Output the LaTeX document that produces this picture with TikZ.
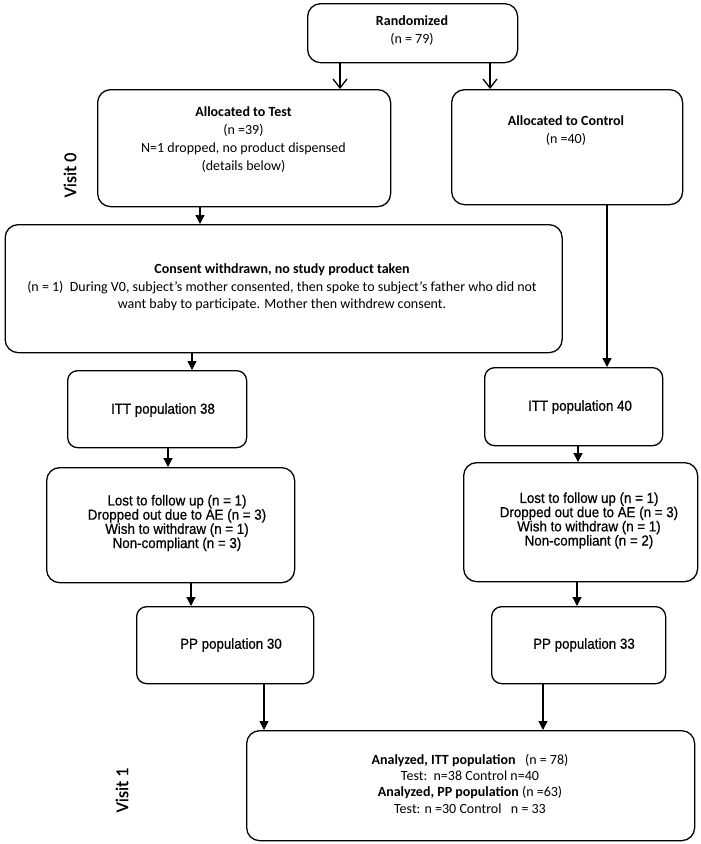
\documentclass[tikz,border=0pt]{standalone}
\usepackage{fontspec}
\setmainfont{Carlito}
\newfontfamily\arialn[FakeStretch=0.92,FakeBold=0.6]{Liberation Sans}
\newfontfamily\visitfont[FakeBold=0.8]{Carlito}
\usetikzlibrary{arrows.meta}
\begin{document}
\begin{tikzpicture}[x=1pt,y=-1pt,
  box/.style={draw=black, line width=1.3pt, rounded corners=13pt, anchor=north west, inner sep=0pt},
  sbox/.style={box, rounded corners=10pt},
  ctext/.style={align=center, inner sep=0pt, font=\fontsize{14}{18}\selectfont},
  atext/.style={align=center, inner sep=0pt, font=\arialn\fontsize{14.5}{14.2}\selectfont},
  vlabel/.style={inner sep=0pt, rotate=90, font=\visitfont\fontsize{18}{20}\selectfont},
  arr/.style={line width=1.3pt, -{Triangle[length=9pt,width=9pt]}},
  opn/.style={line width=1.3pt, -{Straight Barb[length=9pt,width=14pt]}}
]
\useasboundingbox[fill=white] (0,0) rectangle (701,844);

% boxes
\node[box, minimum width=210pt, minimum height=59pt] (rand) at (307,3) {};
\node[box, minimum width=293pt, minimum height=117pt] (test) at (97,89) {};
\node[box, minimum width=231pt, minimum height=115pt] (ctrl) at (451,89) {};
\node[box, minimum width=557pt, minimum height=128pt] (cons) at (4.5,224) {};
\node[sbox, minimum width=179pt, minimum height=77pt] (itta) at (67,370) {};
\node[box, minimum width=248pt, minimum height=115pt] (losta) at (46,467) {};
\node[sbox, minimum width=178pt, minimum height=78pt] (ittb) at (484,367) {};
\node[box, minimum width=234pt, minimum height=119pt] (lostb) at (463,462) {};
\node[sbox, minimum width=177pt, minimum height=77pt] (ppa) at (136,606) {};
\node[sbox, minimum width=174pt, minimum height=77pt] (ppb) at (491,606) {};
\node[box, minimum width=448pt, minimum height=110pt] (anal) at (246,730) {};

% texts
\node[ctext] (trand) at (412,30.5) {\textbf{Randomized}\\(n = 79)};
\node[ctext] (ttest) at (243.5,140) {\textbf{Allocated to Test}\\(n =39)\\N=1 dropped, no product dispensed\\(details below)};
\node[ctext] (tctrl) at (566,131) {\textbf{Allocated to Control}\\(n =40)};
\node[ctext, font=\fontsize{14}{17.5}\selectfont] (tcons) at (282,287.5) {\textbf{Consent withdrawn, no study product taken}\\(n = 1)\ \ During V0, subject’s mother consented, then spoke to subject’s father who did not\\want baby to participate. Mother then withdrew consent.};
\node[atext] (titta) at (163,410) {ITT population 38};
\node[atext] (tlosta) at (177,523) {Lost to follow up (n = 1)\\Dropped out due to AE (n = 3)\\Wish to withdraw (n = 1)\\Non-compliant (n = 3)};
\node[atext] (tittb) at (580,407) {ITT population 40};
\node[atext] (tlostb) at (589,520.5) {Lost to follow up (n = 1)\\Dropped out due to AE (n = 3)\\Wish to withdraw (n = 1)\\Non-compliant (n = 2)};
\node[atext] (tppa) at (231,645) {PP population 30};
\node[atext] (tppb) at (584,645) {PP population 33};
\node[ctext, font=\fontsize{14}{16.3}\selectfont] (tanal) at (470,783.5) {\textbf{Analyzed, ITT population}\ \ \ (n = 78)\\Test:\ \ n=38 Control n=40\\\textbf{Analyzed, PP population} (n =63)\\Test: n =30 Control\ \ \ n = 33};
\node[vlabel] (v0) at (70,175) {Visit 0};
\node[vlabel] (v1) at (122,790) {Visit 1};

% connectors
\draw[opn] (340,0 |- rand.south) -- (340,0 |- test.north);
\draw[opn] (490,0 |- rand.south) -- (490,0 |- ctrl.north);
\draw[arr] (200,0 |- test.south) -- (200,0 |- cons.north);
\draw[arr] (607,0 |- ctrl.south) -- (607,0 |- ittb.north);
\draw[arr] (192,0 |- cons.south) -- (192,0 |- itta.north);
\draw[arr] (168,0 |- itta.south) -- (168,0 |- losta.north);
\draw[arr] (578,0 |- ittb.south) -- (578,0 |- lostb.north);
\draw[arr] (191,0 |- losta.south) -- (191,0 |- ppa.north);
\draw[arr] (577,0 |- lostb.south) -- (577,0 |- ppb.north);
\draw[arr] (264,0 |- ppa.south) -- (264,0 |- anal.north);
\draw[arr] (543,0 |- ppb.south) -- (543,0 |- anal.north);
\end{tikzpicture}
\end{document}
